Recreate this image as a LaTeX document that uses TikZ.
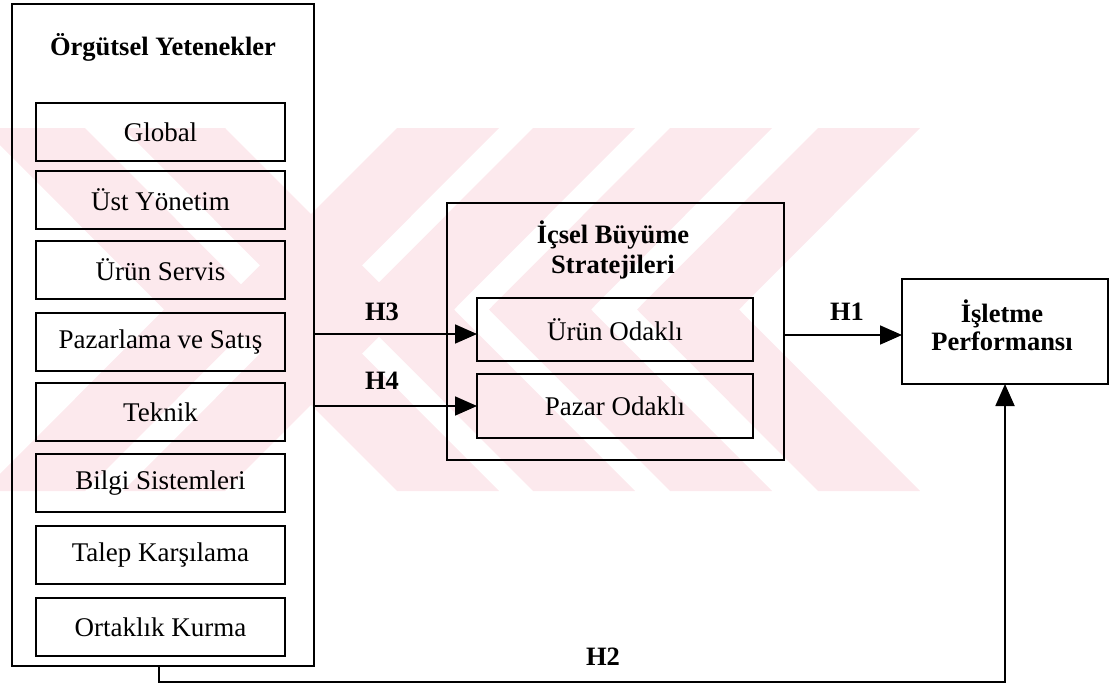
\documentclass[tikz,border=0pt]{standalone}
\usepackage{fontspec}
\setmainfont{Liberation Serif}
\usetikzlibrary{arrows.meta}
\definecolor{wm}{RGB}{252,233,237}
\begin{document}
\begin{tikzpicture}[x=1pt,y=-1pt,
  box/.style={draw, line width=1.8pt, inner sep=0pt, outer sep=0pt},
  item/.style={box, minimum width=249pt, minimum height=58pt, font=\fontsize{27}{30}\selectfont},
  ttl/.style={font=\fontsize{26.5}{30}\selectfont\bfseries, align=center, inner sep=0pt},
  hl/.style={font=\fontsize{26.5}{29}\selectfont\bfseries, inner sep=0pt},
  arr/.style={line width=1.8pt, -{Triangle[length=22pt,width=19pt]}},
]
\useasboundingbox (0,0) rectangle (1111,685);
% watermark
\begin{scope}
\clip (0,128) rectangle (1000,491);
\foreach \s in {397,533,670,818} {
  \fill[wm] (\s,128) -- (\s-181,309.5) -- (\s,491) -- (\s+102,491) -- (\s+102-181,309.5) -- (\s+102,128) -- cycle;
}
\foreach \s in {-17,123} {
  \fill[wm] (\s,128) -- (\s+181,309.5) -- (\s,491) -- (\s+102,491) -- (\s+102+181,309.5) -- (\s+102,128) -- cycle;
}
\end{scope}
% left container
\node[box, minimum width=302pt, minimum height=662pt] (org) at (163,335) {};
\node[ttl] (orgt) at (163,47) {Örgütsel Yetenekler};
\node[item] (i1) at (160.5,132) {Global};
\node[item] (i2) at (160.5,200) {Üst Yönetim};
\node[item] (i3) at (160.5,270) {Ürün Servis};
\node[item] (i4) at (160.5,342) {Pazarlama ve Satış};
\node[item] (i5) at (160.5,412) {Teknik};
\node[item] (i6) at (160.5,483) {Bilgi Sistemleri};
\node[item] (i7) at (160.5,555) {Talep Karşılama};
\node[item] (i8) at (160.5,627) {Ortaklık Kurma};
% middle container
\node[box, minimum width=337pt, minimum height=257pt] (mid) at (615.5,331.5) {};
\node[ttl] (midt) at (613,250) {İçsel Büyüme\\Stratejileri};
\node[item, minimum width=276pt, minimum height=63pt] (uo) at (615,329.5) {Ürün Odaklı};
\node[item, minimum width=276pt, minimum height=64pt] (po) at (615,406) {Pazar Odaklı};
% performance
\node[box, minimum width=206pt, minimum height=105pt] (perf) at (1005,331.5) {};
\node[ttl, font=\fontsize{26.5}{27.5}\selectfont\bfseries] (perft) at (1002,325.5) {İşletme\\Performansı};
% connectors
\coordinate (h3e) at ([yshift=-4.5pt]uo.west);
\coordinate (h1e) at ([yshift=-3.5pt]perf.west);
\coordinate (h2a) at (159,682);
\draw[arr] (h3e -| org.east) -- (h3e);
\draw[arr] (po.west -| org.east) -- (po.west);
\draw[arr] (h1e -| mid.east) -- (h1e);
\draw[arr] (org.south -| h2a) -- (h2a) -| (perf.south);
% labels
\node[hl] (h3) at (382,312) {H3};
\node[hl] (h4) at (382,381) {H4};
\node[hl] (h1) at (847,312) {H1};
\node[hl] (h2) at (603,657) {H2};
\end{tikzpicture}
\end{document}
